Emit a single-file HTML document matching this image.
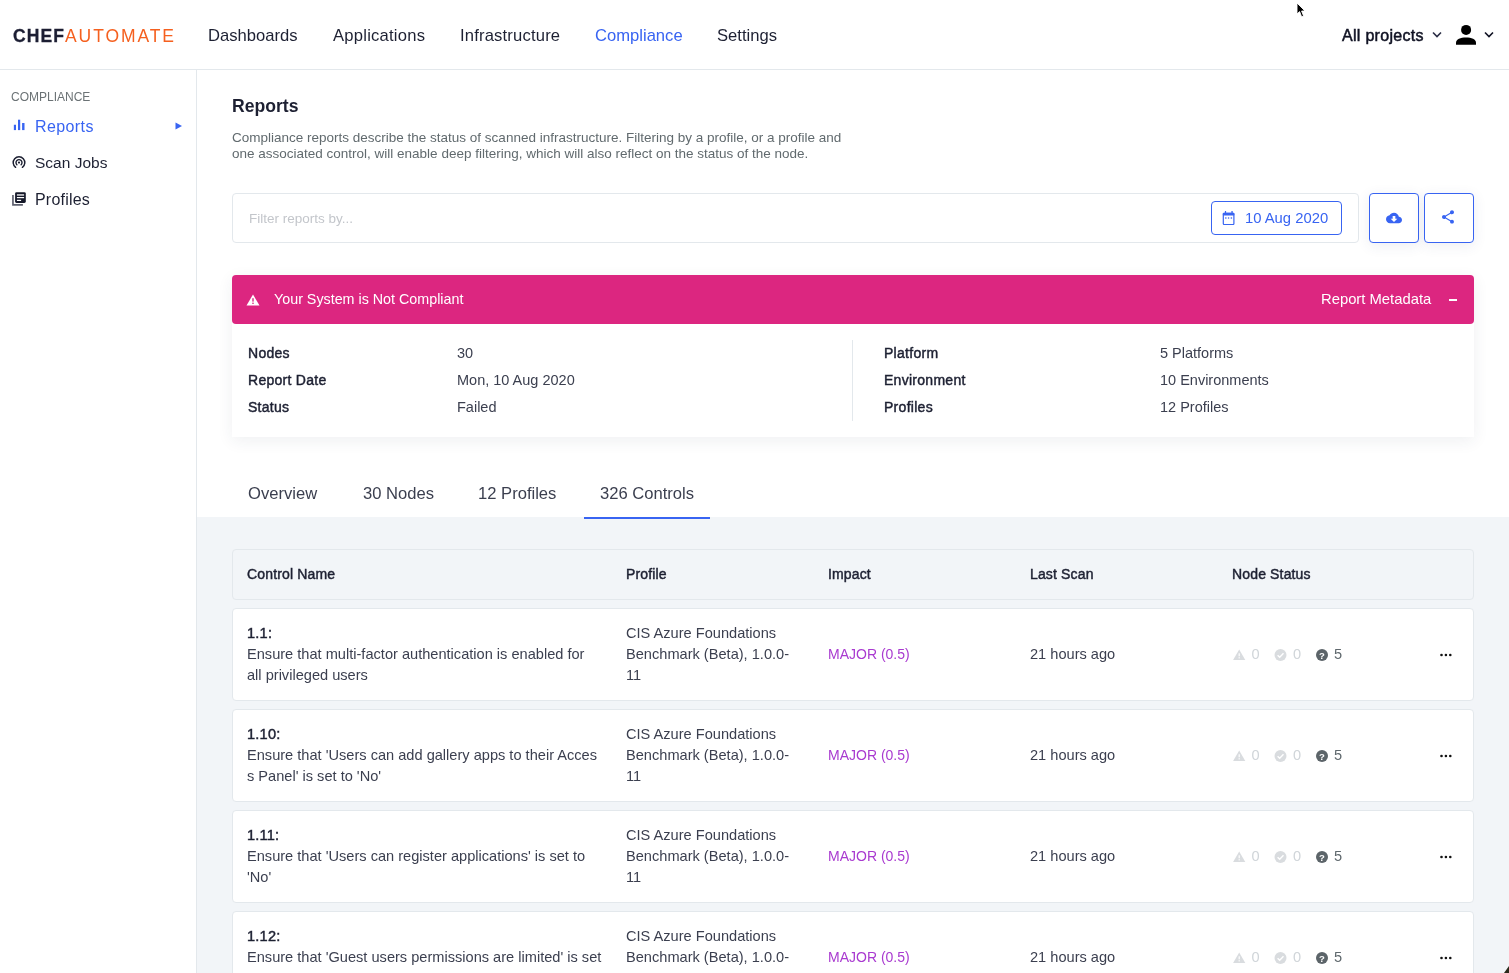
<!DOCTYPE html>
<html><head><meta charset="utf-8">
<style>
*{box-sizing:border-box;margin:0;padding:0}
html,body{width:1509px;height:973px;overflow:hidden;background:#fff}
body{will-change:transform}
body{font-family:"Liberation Sans",sans-serif;color:#1d2032;position:relative}
.a{position:absolute;white-space:nowrap}
#hdr{position:absolute;left:0;top:0;width:1509px;height:70px;border-bottom:1px solid #e3e8ec;background:#fff}
#side{position:absolute;left:0;top:70px;width:197px;height:903px;border-right:1px solid #e3e8ec;background:#fff}
#gray{position:absolute;left:197px;top:517px;width:1312px;height:456px;background:#f2f5f8}
.nav{position:absolute;top:26px;font-size:16.6px;line-height:20px;color:#1d2032}
.btn{position:absolute;border:1px solid #3864f2;border-radius:4px;background:#fff}
.lbl{position:absolute;font-size:14px;font-weight:400;-webkit-text-stroke:0.45px #1d2032;letter-spacing:0.28px;line-height:16px;color:#1d2032;white-space:nowrap}
.val{position:absolute;font-size:14.5px;line-height:16px;color:#3b3f4f;white-space:nowrap}
.tab{position:absolute;top:484px;font-size:16.6px;line-height:20px;color:#3b3f4f;white-space:nowrap}
.th{position:absolute;top:566px;font-size:14px;font-weight:400;-webkit-text-stroke:0.45px #1d2032;letter-spacing:0.15px;line-height:16px;color:#1d2032;white-space:nowrap}
.row{position:absolute;left:232px;width:1242px;height:93px;background:#fff;border:1px solid #e3e8ec;border-radius:4px}
.row .c{position:absolute;font-size:14.6px;line-height:21px;color:#3b3f4f;white-space:nowrap}
.row .t1{left:14px;top:14px}
.row .t2{left:393px;top:14px}
.row .imp{left:595px;top:35px;color:#a93ad0;font-size:14px}
.row .ls{left:797px;top:35px}
.row .ns{position:absolute;left:1000px;top:36px;height:20px;width:120px}
.row .dots{position:absolute;left:1206px;top:44px}
</style></head><body>
<div id="hdr">
  <div class="a" style="left:13px;top:25.5px;font-size:17.5px;line-height:20px"><b style="color:#1c1e33;letter-spacing:1.1px;-webkit-text-stroke:0.3px #1c1e33">CHEF</b><span style="color:#f5601f;letter-spacing:1.9px">AUTOMATE</span></div>
  <div class="nav" style="left:208px">Dashboards</div>
  <div class="nav" style="left:333px;letter-spacing:0.23px">Applications</div>
  <div class="nav" style="left:460px;letter-spacing:0.18px">Infrastructure</div>
  <div class="nav" style="left:595px;color:#3864f2">Compliance</div>
  <div class="nav" style="left:717px">Settings</div>
  <div class="a" style="left:1342px;top:26px;font-size:16px;line-height:20px;font-weight:400;-webkit-text-stroke:0.5px #101223;letter-spacing:0.3px;color:#101223">All projects</div>
  <svg class="a" style="left:1432px;top:31px" width="10" height="7" viewBox="0 0 10 7"><path d="M1 1.5 L5 5.5 L9 1.5" fill="none" stroke="#2a2d45" stroke-width="1.6"/></svg>
  <svg class="a" style="left:1455px;top:24px" width="22" height="22" viewBox="0 0 22 22"><circle cx="11.1" cy="5.9" r="5" fill="#000"/><path d="M1 20.8 V18.6 C1 15.3 5.5 13.4 11 13.4 C16.5 13.4 21 15.3 21 18.6 V20.8 Z" fill="#000"/></svg>
  <svg class="a" style="left:1484px;top:31px" width="10" height="7" viewBox="0 0 10 7"><path d="M1 1.5 L5 5.5 L9 1.5" fill="none" stroke="#101223" stroke-width="1.6"/></svg>
  <svg class="a" style="left:1294px;top:1px" width="14" height="20" viewBox="0 0 14 20"><path d="M3 2 L3 13 L5.6 10.6 L7.6 15.8 L9.6 15 L7.6 10 L11 10 Z" fill="#000" stroke="#fff" stroke-width="0.9"/></svg>
</div>
<div id="side">
  <div class="a" style="left:11px;top:20px;font-size:12px;line-height:14px;color:#6b7275">COMPLIANCE</div>
  <svg class="a" style="left:13px;top:49px" width="12" height="12" viewBox="0 0 12 12"><rect x="0.85" y="5.75" width="2.15" height="5.35" fill="#3864f2"/><rect x="5" y="0.7" width="2.2" height="10.4" fill="#3864f2"/><rect x="9.1" y="4" width="2.4" height="7.1" fill="#3864f2"/></svg>
  <div class="a" style="left:35px;top:48px;font-size:16px;line-height:18px;color:#3864f2;letter-spacing:0.4px">Reports</div>
  <svg class="a" style="left:175px;top:52px" width="8" height="8" viewBox="0 0 8 8"><path d="M0.5 0.5 L7 4 L0.5 7.5 Z" fill="#3864f2"/></svg>
  <svg class="a" style="left:10px;top:82px" width="18" height="19" viewBox="0 0 18 19"><path d="M5.59 15.29 A5.8 5.8 0 1 1 12.41 15.29" fill="none" stroke="#1d2032" stroke-width="1.5" stroke-linecap="round"/><path d="M6.88 12.72 A3 3 0 1 1 11.12 12.72" fill="none" stroke="#1d2032" stroke-width="1.4" stroke-linecap="round"/><circle cx="9" cy="10.6" r="1.1" fill="#1d2032"/></svg>
  <div class="a" style="left:35px;top:84px;font-size:15.5px;line-height:18px">Scan Jobs</div>
  <svg class="a" style="left:10px;top:119px" width="18" height="19" viewBox="0 0 18 19"><path d="M2.95 5.9 V15.8 H12.9" fill="none" stroke="#5f6270" stroke-width="1.7"/><rect x="5.1" y="3.2" width="10.7" height="10.7" rx="1.4" fill="#151829"/><rect x="6.9" y="5.1" width="7.2" height="1.7" fill="#c8c9ce"/><rect x="6.9" y="8" width="7.2" height="1.2" fill="#fff"/><rect x="6.9" y="10.8" width="4.2" height="1.2" fill="#fff"/></svg>
  <div class="a" style="left:35px;top:121px;font-size:16px;line-height:18px;letter-spacing:0.2px">Profiles</div>
</div>

<!-- main -->
<div class="a" style="left:232px;top:96px;font-size:17.6px;line-height:20px;font-weight:700;color:#1d2032">Reports</div>
<div class="a" style="left:232px;top:130px;font-size:13.5px;line-height:16px;color:#616a6e">Compliance reports describe the status of scanned infrastructure. Filtering by a profile, or a profile and<br>one associated control, will enable deep filtering, which will also reflect on the status of the node.</div>

<div class="a" style="left:232px;top:193px;width:1127px;height:50px;border:1px solid #e3e8ec;border-radius:4px;background:#fff"></div>
<div class="a" style="left:249px;top:211px;font-size:13.5px;line-height:16px;color:#c3c6cb">Filter reports by...</div>
<div class="btn" style="left:1211px;top:201px;width:131px;height:34px"></div>
<svg class="a" style="left:1222px;top:210px" width="13" height="15" viewBox="0 0 13 15"><rect x="1.3" y="3.3" width="10.6" height="11.3" rx="1.2" fill="none" stroke="#3864f2" stroke-width="1.2"/><rect x="0.8" y="2.8" width="11.6" height="2.8" rx="0.8" fill="#3864f2"/><rect x="2.9" y="1" width="1.2" height="2" fill="#3864f2"/><rect x="9.4" y="1" width="1.3" height="2" fill="#3864f2"/><g fill="#3864f2" opacity="0.8"><rect x="3.1" y="7.2" width="1.4" height="1.6"/><rect x="5.9" y="7.2" width="1.3" height="1.6"/><rect x="8.7" y="7.2" width="1.4" height="1.6"/></g></svg>
<div class="a" style="left:1245px;top:210px;font-size:14.8px;line-height:16px;color:#3864f2">10 Aug 2020</div>
<div class="btn" style="left:1369px;top:193px;width:50px;height:50px;box-shadow:0 3px 14px rgba(50,70,110,0.09)"></div>
<svg class="a" style="left:1386px;top:210.2px" width="16" height="16" viewBox="0 0 24 24"><path d="M19.35 10.04C18.67 6.59 15.64 4 12 4 9.11 4 6.6 5.64 5.35 8.04 2.34 8.36 0 10.910 0 14c0 3.31 2.69 6 6 6h13c2.760 0 5-2.24 5-5 0-2.64-2.05-4.78-4.65-4.96zM17 13l-5 5-5-5h3V9h4v4h3z" fill="#3864f2"/></svg>
<div class="btn" style="left:1424px;top:193px;width:50px;height:50px;box-shadow:0 3px 14px rgba(50,70,110,0.09)"></div>
<svg class="a" style="left:1440px;top:209.1px" width="16" height="16" viewBox="0 0 24 24"><path d="M18 16.08c-.76 0-1.44.3-1.96.77L8.91 12.7c.05-.23.09-.46.09-.7s-.04-.47-.09-.7l7.05-4.11c.54.5 1.25.81 2.04.81 1.66 0 3-1.34 3-3s-1.34-3-3-3-3 1.34-3 3c0 .24.04.47.09.7L8.04 9.81C7.5 9.310 6.79 9 6 9c-1.66 0-3 1.34-3 3s1.34 3 3 3c.79 0 1.5-.31 2.04-.81l7.120 4.16c-.05.21-.08.43-.08.65 0 1.61 1.31 2.92 2.92 2.92 1.61 0 2.92-1.31 2.92-2.92s-1.31-2.92-2.92-2.92z" fill="#3864f2"/></svg>

<!-- compliance card -->
<div class="a" style="left:232px;top:275px;width:1242px;height:162px;background:#fff;border-radius:4px 4px 0 0;box-shadow:0 4px 16px rgba(40,50,80,0.075)"></div>
<div class="a" style="left:232px;top:275px;width:1242px;height:49px;background:#dc2680;border-radius:4px"></div>
<svg class="a" style="left:246px;top:294px" width="14" height="12" viewBox="0 0 14 12"><path d="M7 0.5 L13.5 11.5 H0.5 Z" fill="#fff"/><rect x="6.3" y="4.2" width="1.4" height="3.4" fill="#dc2680"/><rect x="6.3" y="8.6" width="1.4" height="1.4" fill="#dc2680"/></svg>
<div class="a" style="left:274px;top:291px;font-size:14.3px;line-height:16px;color:#fff">Your System is Not Compliant</div>
<div class="a" style="left:1321px;top:291px;font-size:14.8px;line-height:16px;color:#fff">Report Metadata</div>
<div class="a" style="left:1449px;top:299px;width:8px;height:2px;background:#fff"></div>

<div class="lbl" style="left:248px;top:345px">Nodes</div>
<div class="lbl" style="left:248px;top:372px">Report Date</div>
<div class="lbl" style="left:248px;top:399px">Status</div>
<div class="val" style="left:457px;top:345px">30</div>
<div class="val" style="left:457px;top:372px">Mon, 10 Aug 2020</div>
<div class="val" style="left:457px;top:399px">Failed</div>
<div class="a" style="left:852px;top:340px;width:1px;height:81px;background:#e3e8ec"></div>
<div class="lbl" style="left:884px;top:345px">Platform</div>
<div class="lbl" style="left:884px;top:372px">Environment</div>
<div class="lbl" style="left:884px;top:399px">Profiles</div>
<div class="val" style="left:1160px;top:345px">5 Platforms</div>
<div class="val" style="left:1160px;top:372px">10 Environments</div>
<div class="val" style="left:1160px;top:399px">12 Profiles</div>

<!-- tabs -->
<div id="gray"></div>
<div class="tab" style="left:248px">Overview</div>
<div class="tab" style="left:363px">30 Nodes</div>
<div class="tab" style="left:478px">12 Profiles</div>
<div class="tab" style="left:600px">326 Controls</div>
<div class="a" style="left:584px;top:517px;width:126px;height:2px;background:#3864f2"></div>

<!-- table -->
<div class="a" style="left:232px;top:549px;width:1242px;height:51px;border:1px solid #e3e8ec;border-radius:4px;background:#f2f5f8"></div>
<div class="th" style="left:247px">Control Name</div>
<div class="th" style="left:626px">Profile</div>
<div class="th" style="left:828px">Impact</div>
<div class="th" style="left:1030px">Last Scan</div>
<div class="th" style="left:1232px">Node Status</div>
<div class="row" style="top:608px">
<div class="c t1"><b style="color:#1d2032;font-weight:400;-webkit-text-stroke:0.45px #1d2032;letter-spacing:0.2px">1.1:</b><br>Ensure that multi-factor authentication is enabled for<br>all privileged users</div>
<div class="c t2">CIS Azure Foundations<br>Benchmark (Beta), 1.0.0-<br>11</div>
<div class="c imp">MAJOR (0.5)</div>
<div class="c ls">21 hours ago</div>
<div class="ns"><svg width="120" height="20" viewBox="0 0 120 20">
<path d="M6.2 4.4 L12.3 15 H0.1 Z" fill="#d9dcdf"/><rect x="5.6" y="8.3" width="1.2" height="3" fill="#fff"/><rect x="5.6" y="12.2" width="1.2" height="1.2" fill="#fff"/>
<circle cx="47.5" cy="10" r="6" fill="#d9dcdf"/><path d="M44.6 10.2 L46.7 12.2 L50.5 8.2" fill="none" stroke="#fff" stroke-width="1.4"/>
<circle cx="89" cy="10" r="6" fill="#5c6469"/><text x="89" y="13.8" font-family="Liberation Sans" font-weight="700" font-size="9.5" fill="#fff" text-anchor="middle">?</text>
</svg></div>
<div class="c" style="left:1018.5px;top:35px;color:#d0d5d9">0</div>
<div class="c" style="left:1060px;top:35px;color:#d0d5d9">0</div>
<div class="c" style="left:1101px;top:35px;color:#5f686d">5</div>
<svg class="dots" width="14" height="4" viewBox="0 0 14 4"><circle cx="2.5" cy="2" r="1.3" fill="#111"/><circle cx="6.9" cy="2" r="1.3" fill="#111"/><circle cx="11.3" cy="2" r="1.3" fill="#111"/></svg>
</div>
<div class="row" style="top:709px">
<div class="c t1"><b style="color:#1d2032;font-weight:400;-webkit-text-stroke:0.45px #1d2032;letter-spacing:0.2px">1.10:</b><br>Ensure that 'Users can add gallery apps to their Acces<br>s Panel' is set to 'No'</div>
<div class="c t2">CIS Azure Foundations<br>Benchmark (Beta), 1.0.0-<br>11</div>
<div class="c imp">MAJOR (0.5)</div>
<div class="c ls">21 hours ago</div>
<div class="ns"><svg width="120" height="20" viewBox="0 0 120 20">
<path d="M6.2 4.4 L12.3 15 H0.1 Z" fill="#d9dcdf"/><rect x="5.6" y="8.3" width="1.2" height="3" fill="#fff"/><rect x="5.6" y="12.2" width="1.2" height="1.2" fill="#fff"/>
<circle cx="47.5" cy="10" r="6" fill="#d9dcdf"/><path d="M44.6 10.2 L46.7 12.2 L50.5 8.2" fill="none" stroke="#fff" stroke-width="1.4"/>
<circle cx="89" cy="10" r="6" fill="#5c6469"/><text x="89" y="13.8" font-family="Liberation Sans" font-weight="700" font-size="9.5" fill="#fff" text-anchor="middle">?</text>
</svg></div>
<div class="c" style="left:1018.5px;top:35px;color:#d0d5d9">0</div>
<div class="c" style="left:1060px;top:35px;color:#d0d5d9">0</div>
<div class="c" style="left:1101px;top:35px;color:#5f686d">5</div>
<svg class="dots" width="14" height="4" viewBox="0 0 14 4"><circle cx="2.5" cy="2" r="1.3" fill="#111"/><circle cx="6.9" cy="2" r="1.3" fill="#111"/><circle cx="11.3" cy="2" r="1.3" fill="#111"/></svg>
</div>
<div class="row" style="top:810px">
<div class="c t1"><b style="color:#1d2032;font-weight:400;-webkit-text-stroke:0.45px #1d2032;letter-spacing:0.2px">1.11:</b><br>Ensure that 'Users can register applications' is set to<br>'No'</div>
<div class="c t2">CIS Azure Foundations<br>Benchmark (Beta), 1.0.0-<br>11</div>
<div class="c imp">MAJOR (0.5)</div>
<div class="c ls">21 hours ago</div>
<div class="ns"><svg width="120" height="20" viewBox="0 0 120 20">
<path d="M6.2 4.4 L12.3 15 H0.1 Z" fill="#d9dcdf"/><rect x="5.6" y="8.3" width="1.2" height="3" fill="#fff"/><rect x="5.6" y="12.2" width="1.2" height="1.2" fill="#fff"/>
<circle cx="47.5" cy="10" r="6" fill="#d9dcdf"/><path d="M44.6 10.2 L46.7 12.2 L50.5 8.2" fill="none" stroke="#fff" stroke-width="1.4"/>
<circle cx="89" cy="10" r="6" fill="#5c6469"/><text x="89" y="13.8" font-family="Liberation Sans" font-weight="700" font-size="9.5" fill="#fff" text-anchor="middle">?</text>
</svg></div>
<div class="c" style="left:1018.5px;top:35px;color:#d0d5d9">0</div>
<div class="c" style="left:1060px;top:35px;color:#d0d5d9">0</div>
<div class="c" style="left:1101px;top:35px;color:#5f686d">5</div>
<svg class="dots" width="14" height="4" viewBox="0 0 14 4"><circle cx="2.5" cy="2" r="1.3" fill="#111"/><circle cx="6.9" cy="2" r="1.3" fill="#111"/><circle cx="11.3" cy="2" r="1.3" fill="#111"/></svg>
</div>
<div class="row" style="top:911px">
<div class="c t1"><b style="color:#1d2032;font-weight:400;-webkit-text-stroke:0.45px #1d2032;letter-spacing:0.2px">1.12:</b><br>Ensure that 'Guest users permissions are limited' is set<br>to 'No'</div>
<div class="c t2">CIS Azure Foundations<br>Benchmark (Beta), 1.0.0-<br>11</div>
<div class="c imp">MAJOR (0.5)</div>
<div class="c ls">21 hours ago</div>
<div class="ns"><svg width="120" height="20" viewBox="0 0 120 20">
<path d="M6.2 4.4 L12.3 15 H0.1 Z" fill="#d9dcdf"/><rect x="5.6" y="8.3" width="1.2" height="3" fill="#fff"/><rect x="5.6" y="12.2" width="1.2" height="1.2" fill="#fff"/>
<circle cx="47.5" cy="10" r="6" fill="#d9dcdf"/><path d="M44.6 10.2 L46.7 12.2 L50.5 8.2" fill="none" stroke="#fff" stroke-width="1.4"/>
<circle cx="89" cy="10" r="6" fill="#5c6469"/><text x="89" y="13.8" font-family="Liberation Sans" font-weight="700" font-size="9.5" fill="#fff" text-anchor="middle">?</text>
</svg></div>
<div class="c" style="left:1018.5px;top:35px;color:#d0d5d9">0</div>
<div class="c" style="left:1060px;top:35px;color:#d0d5d9">0</div>
<div class="c" style="left:1101px;top:35px;color:#5f686d">5</div>
<svg class="dots" width="14" height="4" viewBox="0 0 14 4"><circle cx="2.5" cy="2" r="1.3" fill="#111"/><circle cx="6.9" cy="2" r="1.3" fill="#111"/><circle cx="11.3" cy="2" r="1.3" fill="#111"/></svg>
</div>
<svg class="a" style="left:1503px;top:966px" width="6" height="7" viewBox="0 0 6 7"><path d="M6 0 L6 7 L1 7 Z" fill="#2a2a1a"/></svg>
</body></html>
